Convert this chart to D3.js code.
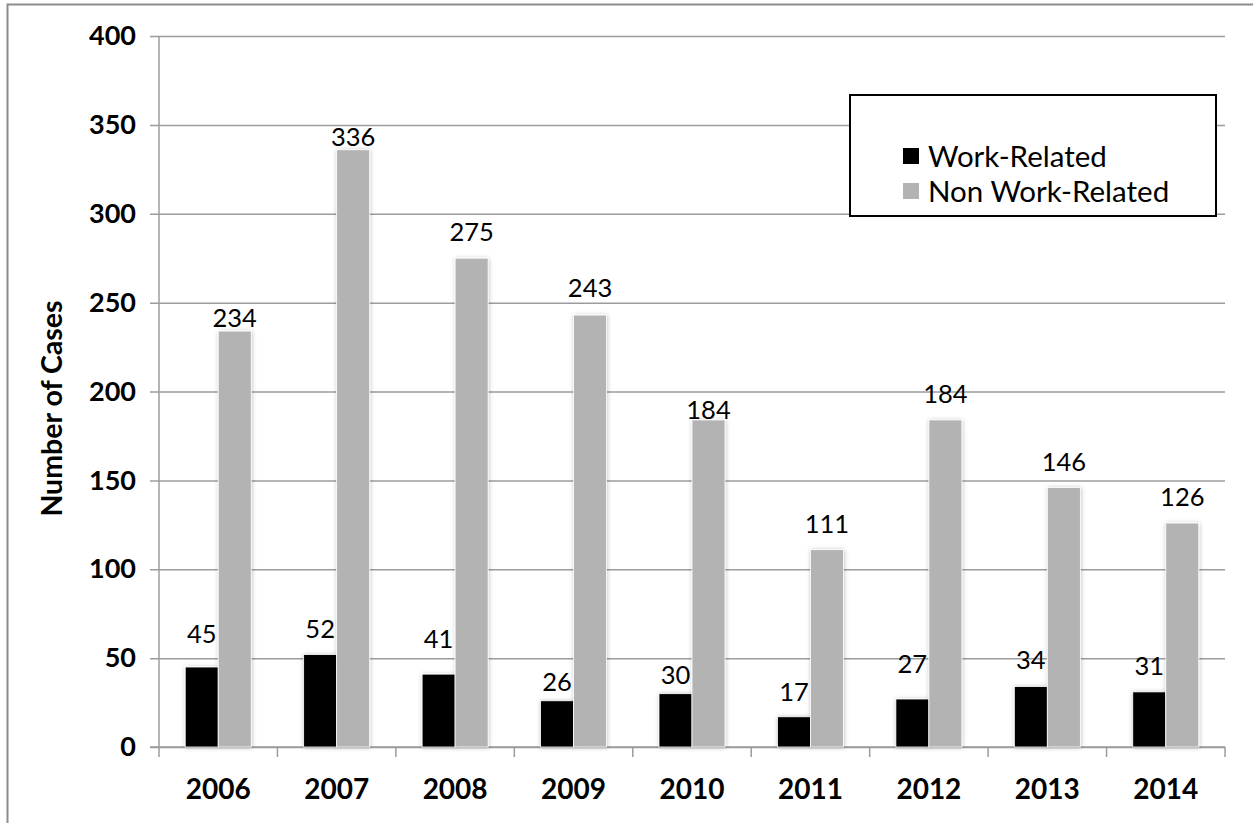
<!DOCTYPE html>
<html>
<head>
<meta charset="utf-8">
<script src="https://cdn.jsdelivr.net/npm/d3@7"></script>
<style>
  html, body { margin: 0; padding: 0; background: #fff; }
  svg { display: block; }
  text { font-family: Lato, "Open Sans", sans-serif; fill: #000; }
</style>
</head>
<body>
<svg id="chart" width="1253" height="823"></svg>
<script>
// Cases by year
const years = ["2006", "2007", "2008", "2009", "2010", "2011", "2012", "2013", "2014"];
const workRelated = [45, 52, 41, 26, 30, 17, 27, 34, 31];
const nonWorkRelated = [234, 336, 275, 243, 184, 111, 184, 146, 126];
const seriesNames = ["Work-Related", "Non Work-Related"];
const yTicks = [0, 50, 100, 150, 200, 250, 300, 350, 400];

// Label lift above each bar top (px), to keep labels clear of gridlines
const liftWork = [33, 26, 35, 19, 19, 25, 35, 27, 26];
const liftNon = [13, 13, 26, 27, 10, 26, 26, 26, 26];

const colors = { "Work-Related": "#000000", "Non Work-Related": "#b3b3b3" };

const svg = d3.select("#chart");
const plotLeft = 159, plotRight = 1225, plotTop = 36, plotBottom = 747;

// Outer frame
svg.append("rect")
  .attr("x", 7.5).attr("y", 4.5)
  .attr("width", 1260).attr("height", 840)
  .attr("fill", "none").attr("stroke", "#8c8c8c").attr("stroke-width", 2);

const defs = svg.append("defs");
const f = defs.append("filter").attr("id", "barShadow")
  .attr("x", "-30%").attr("y", "-10%").attr("width", "160%").attr("height", "120%");
f.append("feDropShadow").attr("dx", 0.5).attr("dy", 0.5)
  .attr("stdDeviation", 2).attr("flood-color", "#000").attr("flood-opacity", 0.25);

const y = d3.scaleLinear().domain([0, 400]).range([plotBottom, plotTop]);
const x0 = d3.scaleBand().domain(years).range([plotLeft, plotRight]).paddingInner(0).paddingOuter(0);
const x1 = d3.scaleBand().domain(seriesNames).range([0, x0.bandwidth()])
  .paddingInner(0).paddingOuter(0.794);

// Horizontal gridlines with left ticks
const yAxis = d3.axisLeft(y).tickValues(yTicks)
  .tickSize(-(plotRight - plotLeft)).tickPadding(23).tickFormat(d3.format("d"));
const gy = svg.append("g").attr("transform", `translate(${plotLeft},0)`).call(yAxis);
gy.select(".domain").remove();
gy.selectAll(".tick line").attr("stroke", "#9c9c9c").attr("stroke-width", 1.5)
  .attr("x1", -9);
gy.selectAll(".tick text")
  .attr("font-size", 27).attr("font-weight", "bold")
  .attr("font-family", "Lato, sans-serif").attr("fill", "#000");

// Vertical axis line
svg.append("line")
  .attr("x1", plotLeft).attr("x2", plotLeft).attr("y1", plotTop).attr("y2", plotBottom)
  .attr("stroke", "#9c9c9c").attr("stroke-width", 1.5);

// Category axis
const xAxis = d3.axisBottom(x0).tickSize(0).tickPadding(32);
const gx = svg.append("g").attr("transform", `translate(0,${plotBottom})`).call(xAxis);
gx.select(".domain").remove();
gx.selectAll(".tick text")
  .attr("font-size", 28).attr("font-weight", "bold")
  .attr("font-family", "Lato, sans-serif").attr("fill", "#000");
// Category boundary ticks
const bounds = years.map(d => x0(d)).concat([x0(years[years.length - 1]) + x0.bandwidth()]);
svg.append("g").selectAll("line").data(bounds).join("line")
  .attr("x1", d => d).attr("x2", d => d)
  .attr("y1", plotBottom).attr("y2", plotBottom + 10)
  .attr("stroke", "#9c9c9c").attr("stroke-width", 1.5);
svg.append("line")
  .attr("x1", plotLeft - 9).attr("x2", plotRight).attr("y1", plotBottom).attr("y2", plotBottom)
  .attr("stroke", "#9c9c9c").attr("stroke-width", 1.5);

// Bars
const rows = years.map((yr, i) => ({
  year: yr,
  values: [
    { key: "Work-Related", value: workRelated[i], lift: liftWork[i] },
    { key: "Non Work-Related", value: nonWorkRelated[i], lift: liftNon[i] }
  ]
}));

const groups = svg.append("g").selectAll("g").data(rows).join("g")
  .attr("transform", d => `translate(${x0(d.year)},0)`);

groups.selectAll("rect").data(d => d.values).join("rect")
  .attr("x", d => x1(d.key))
  .attr("y", d => y(d.value))
  .attr("width", x1.bandwidth())
  .attr("height", d => y(0) - y(d.value))
  .attr("fill", d => colors[d.key])
  .attr("stroke", "#fff").attr("stroke-width", 0.8)
  .attr("filter", "url(#barShadow)");

groups.selectAll("text.val").data(d => d.values).join("text")
  .attr("class", "val")
  .attr("x", d => x1(d.key) + x1.bandwidth() / 2)
  .attr("y", d => y(d.value) - d.lift)
  .attr("dy", "0.36em")
  .attr("text-anchor", "middle")
  .attr("font-size", 25.5)
  .text(d => d.value);

// Axis title
svg.append("text")
  .attr("transform", `translate(62,${(plotTop + plotBottom) / 2 + 17}) rotate(-90)`)
  .attr("text-anchor", "middle")
  .attr("font-size", 28.5).attr("font-weight", "bold")
  .text("Number of Cases");

// Legend
const legend = svg.append("g");
legend.append("rect")
  .attr("x", 850).attr("y", 95).attr("width", 366).attr("height", 121)
  .attr("fill", "#fff").attr("stroke", "#000").attr("stroke-width", 2);
const items = legend.selectAll("g.item").data(seriesNames).join("g")
  .attr("class", "item")
  .attr("transform", (d, i) => `translate(903,${156 + i * 35})`);
items.append("rect")
  .attr("x", 0).attr("y", -8).attr("width", 16).attr("height", 16)
  .attr("fill", d => colors[d]);
items.append("text")
  .attr("x", 25).attr("dy", "0.36em")
  .attr("font-size", 29.5)
  .text(d => d);
</script>
</body>
</html>
